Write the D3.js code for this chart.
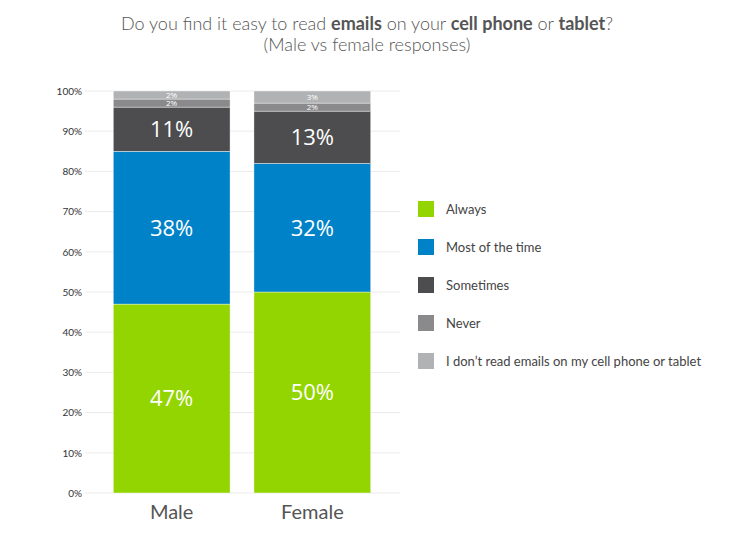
<!DOCTYPE html>
<html lang="en">
<head>
  <meta charset="UTF-8">
  <script src="https://d3js.org/d3.v7.min.js"></script>
  <title>Email reading on phone or tablet</title>
  <style>
    body { margin: 0; background: #fff; }
    text { font-family: Lato, "Open Sans", sans-serif; }
  </style>
</head>
<body>
<div id="chart"></div>
<script>

var groups = ["Male", "Female"];
var answers = ["Always", "Most of the time", "Sometimes", "Never", "I don\u2019t read emails on my cell phone or tablet"];
var maleValues = [47, 38, 11, 2, 2];
var femaleValues = [50, 32, 13, 2, 3];
var yTicks = [0, 10, 20, 30, 40, 50, 60, 70, 80, 90, 100];
var colors = ["#93d500", "#0082c8", "#4d4d4f", "#8a8a8c", "#b1b2b4"];

var width = 730, height = 549;
var margin = {top: 91, left: 85, right: 330, bottom: 56};

var svg = d3.select("#chart").append("svg")
  .attr("width", width)
  .attr("height", height);

// title
var title = svg.append("text")
  .attr("text-anchor", "middle")
  .attr("fill", "#555")
  .style("font-size", "18px");
var l1 = title.append("tspan").attr("x", 367).attr("y", 30);
[["Do you find it easy to read ", 300], ["emails", 700], [" on your ", 300],
 ["cell phone", 700], [" or ", 300], ["tablet", 700], ["?", 300]].forEach(function(p) {
  l1.append("tspan").style("font-weight", p[1]).text(p[0]);
});
title.append("tspan").attr("x", 367).attr("y", 51).style("font-weight", 300)
  .text("(Male vs female responses)");

var x = d3.scaleBand()
  .domain(groups)
  .range([102, 382])
  .paddingInner(0.17)
  .paddingOuter(0.08);

var y = d3.scaleLinear()
  .domain([0, 100])
  .range([height - margin.bottom, margin.top]);

// grid
svg.append("g").selectAll("line")
  .data(yTicks).enter().append("line")
  .attr("x1", 85).attr("x2", 400)
  .attr("y1", function(d) { return y(d); })
  .attr("y2", function(d) { return y(d); })
  .attr("stroke", "#ebebeb")
  .attr("stroke-width", 1);

// y axis
var yAxis = svg.append("g")
  .attr("transform", "translate(85,0)")
  .call(d3.axisLeft(y).tickValues(yTicks).tickSize(0).tickPadding(3)
    .tickFormat(function(d) { return d + "%"; }));
yAxis.select(".domain").remove();
yAxis.selectAll("text").attr("fill", "#333").style("font-size", "10px")
  .style("font-family", "Lato, sans-serif");

// x axis
var xAxis = svg.append("g")
  .attr("transform", "translate(0," + (height - margin.bottom) + ")")
  .call(d3.axisBottom(x).tickSize(0).tickPadding(12));
xAxis.select(".domain").remove();
xAxis.selectAll("text").attr("fill", "#555").style("font-size", "20px")
  .style("font-family", "Lato, sans-serif");

// stack
var table = groups.map(function(g, i) {
  var row = {group: g};
  var vals = i === 0 ? maleValues : femaleValues;
  answers.forEach(function(a, j) { row[a] = vals[j]; });
  return row;
});
var series = d3.stack().keys(answers)(table);

var layers = svg.append("g").selectAll("g")
  .data(series).enter().append("g")
  .attr("fill", function(d, i) { return colors[i]; });

layers.selectAll("rect")
  .data(function(d) { return d; })
  .enter().append("rect")
  .attr("x", function(d) { return x(d.data.group); })
  .attr("y", function(d) { return y(d[1]); })
  .attr("height", function(d) { return y(d[0]) - y(d[1]); })
  .attr("width", x.bandwidth())
  .attr("stroke", "#fff")
  .attr("stroke-width", 0.4);

layers.selectAll("text")
  .data(function(d) { return d; })
  .enter().append("text")
  .attr("x", function(d) { return x(d.data.group) + x.bandwidth() / 2; })
  .attr("y", function(d) { return (y(d[0]) + y(d[1])) / 2; })
  .attr("dy", "0.36em")
  .attr("text-anchor", "middle")
  .attr("fill", "#fff")
  .style("font-family", "'Open Sans', sans-serif")
  .style("font-size", function(d) { return (d[1] - d[0]) > 5 ? "22px" : "8px"; })
  .text(function(d) { return (d[1] - d[0]) + "%"; });

// legend
var legend = svg.append("g").selectAll("g")
  .data(answers).enter().append("g")
  .attr("transform", function(d, i) { return "translate(418," + (201 + i * 38) + ")"; });
legend.append("rect")
  .attr("width", 16).attr("height", 16)
  .attr("fill", function(d, i) { return colors[i]; });
legend.append("text")
  .attr("x", 28).attr("y", 8).attr("dy", "0.36em")
  .attr("fill", "#444")
  .style("font-size", "13px")
  .text(function(d) { return d; });

</script>
</body>
</html>
